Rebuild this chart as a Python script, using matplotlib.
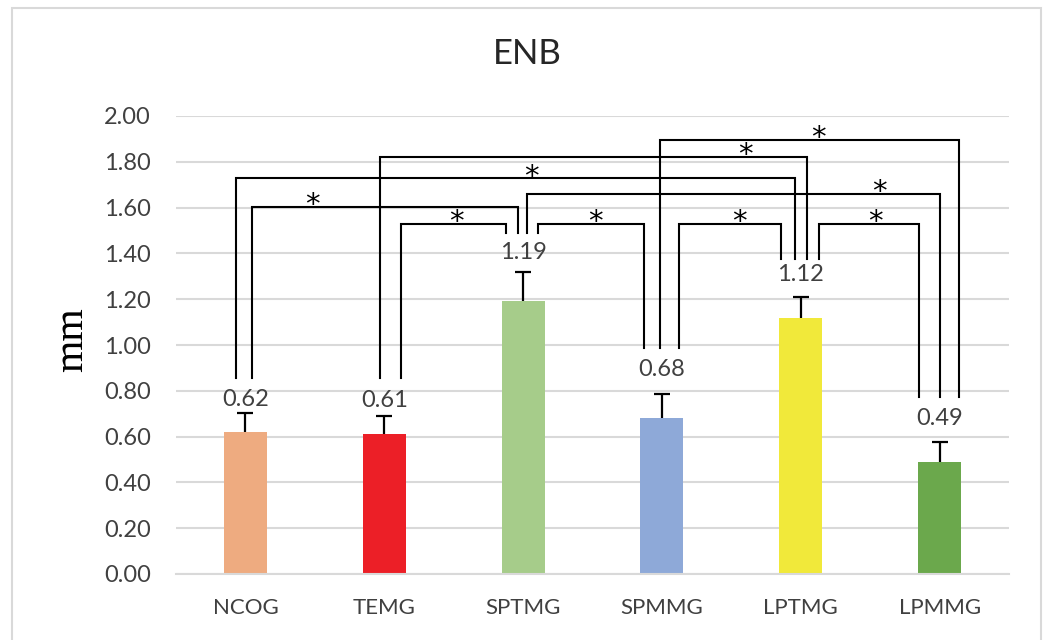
import matplotlib
matplotlib.use('Agg')
import matplotlib.pyplot as plt
import numpy as np
from matplotlib.patches import Rectangle

# Daten
groups = ['NCOG', 'TEMG', 'SPTMG', 'SPMMG', 'LPTMG', 'LPMMG']
means = [0.62, 0.61, 1.19, 0.68, 1.12, 0.49]
errs = [0.083, 0.080, 0.129, 0.106, 0.090, 0.088]
colors = ['#EEAB80', '#EC1F27', '#A6CC8A', '#8EA9D8', '#F1E93A', '#6BA84C']

# Signifikanz-Klammern: (Gruppe a, Gruppe b, Hoehe)
pairs = [(0, 2), (1, 2), (2, 3), (0, 4), (1, 4), (2, 5), (3, 5), (3, 4), (4, 5)]
levels = [1.604, 1.528, 1.528, 1.728, 1.822, 1.659, 1.895, 1.528, 1.528]
leg_bottom = [0.856, 0.856, 1.49, 0.987, 1.376, 0.774]  # wo die Beine enden

# Versatz der Beine relativ zur Balkenmitte und Position des Sterns
leg_off = [(0.048, -0.04), (0.12, -0.12), (0.11, -0.13), (-0.065, -0.04),
           (-0.03, 0.046), (0.03, 0.0), (-0.016, 0.14), (0.126, -0.14), (0.13, -0.15)]
star_x = [0.48, 1.52, 2.52, 2.06, 3.60, 4.57, 4.13, 3.56, 4.54]
label_pad = [14, 15, 19, 25, 22, 23]  # Abstand Wertelabel ueber Fehlerbalken (px)

plt.rcParams['font.family'] = ['Lato', 'DejaVu Sans']

fig = plt.figure(figsize=(10.49, 6.40), dpi=100)
ax = fig.add_axes([176 / 1049, 66 / 640, 833 / 1049, (574 - 116) / 640])

x = np.arange(len(groups))
tops = np.array(means) + np.array(errs)
ax.bar(x, means, width=0.31, color=colors, zorder=2)
# nur obere Fehlerbalken
ax.vlines(x, means, tops, color='black', lw=1.6, zorder=3)
ax.plot(x, tops, ls='none', marker='_', ms=11, mew=1.6, color='black', zorder=3)

for i, (m, t) in enumerate(zip(means, tops)):
    ax.annotate(f'{m:.2f}', (i, t), xytext=(0, label_pad[i] * 0.72),
                textcoords='offset points', ha='center', va='center',
                fontsize=17, color='#404040')

for k, (a, b) in enumerate(pairs):
    xa = a + leg_off[k][0]
    xb = b + leg_off[k][1]
    y = levels[k]
    ax.plot([xa, xa, xb, xb], [leg_bottom[a], y, y, leg_bottom[b]],
            color='black', lw=1.5, zorder=4, solid_joinstyle='miter')
    ax.annotate('*', (star_x[k], y), xytext=(0, -4.5), textcoords='offset points',
                ha='center', va='baseline', fontsize=21, family='DejaVu Sans',
                color='black')

ax.set_xlim(-0.5, 5.5)
ax.set_ylim(0, 2.0)
ax.set_yticks(np.arange(0, 2.01, 0.2))
ax.set_yticklabels([f'{v:.2f}' for v in np.arange(0, 2.01, 0.2)])
ax.set_xticks(x)
ax.set_xticklabels(groups)
ax.tick_params(axis='both', length=0, colors='#404040')
ax.tick_params(axis='y', labelsize=17, pad=18)
ax.tick_params(axis='x', labelsize=16, pad=17)
ax.grid(axis='y', color='#D9D9D9', lw=1.5, zorder=0)
ax.set_axisbelow(True)
for s in ['top', 'right', 'left']:
    ax.spines[s].set_visible(False)
ax.spines['bottom'].set_color('#D9D9D9')
ax.spines['bottom'].set_linewidth(1.5)

fig.text(72 / 1049, 1 - 340 / 640, 'mm', rotation=90, ha='center', va='center',
         fontsize=30, family='Liberation Serif', color='black')
fig.text(527 / 1049, 1 - 54 / 640, 'ENB', ha='center', va='center',
         fontsize=25, color='#262626')

# Rahmen um das Diagramm
fig.patches.append(Rectangle((12 / 1049, -0.01), (1041 - 12) / 1049, 1 - 8 / 640 + 0.01,
                             transform=fig.transFigure, fill=False,
                             edgecolor='#D9D9D9', lw=1.5))

fig.savefig('out.png', dpi=100)
